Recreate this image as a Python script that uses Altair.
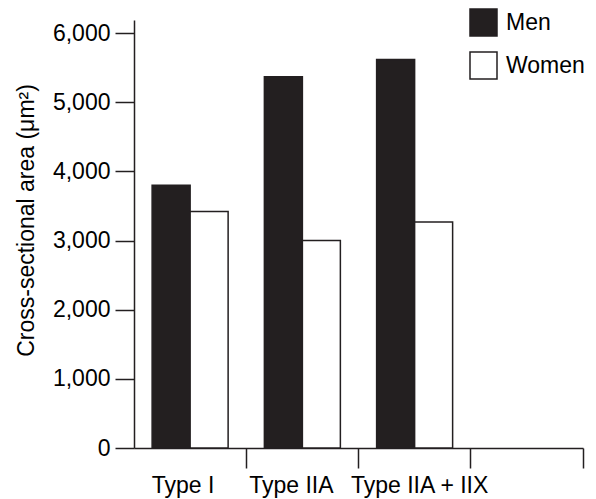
import altair as alt
import pandas as pd

categories = ["Type I", "Type IIA", "Type IIA + IIX"]
axis_slots = ["Type I", "Type IIA", "Type IIA + IIX", " "]
groups = ["Men", "Women"]
men = [3800, 5370, 5620]
women = [3420, 3000, 3270]
y_ticks = [0, 1000, 2000, 3000, 4000, 5000, 6000]

rows = []
for c, m, w in zip(categories, men, women):
    rows.append({"type": c, "sex": "Men", "area": m})
    rows.append({"type": c, "sex": "Women", "area": w})
df = pd.DataFrame(rows)

INK = "#231f20"
FONT = "Liberation Sans"
FS = 23

label_shift = alt.ExprRef(
    "datum.value == 'Type I' ? -7 : (datum.value == 'Type IIA' ? -11 : 5)"
)

chart = alt.Chart(df).mark_bar(stroke=INK, strokeWidth=1.5).encode(
    x=alt.X("type:N", sort=axis_slots,
            scale=alt.Scale(domain=axis_slots, paddingInner=0, paddingOuter=0),
            axis=alt.Axis(title=None, labelAngle=0, bandPosition=1, tickSize=20,
                          labelPadding=6, labelOffset=label_shift, labelFontSize=FS,
                          labelFont=FONT, labelColor="black", domainColor=INK,
                          tickColor=INK, domainWidth=1.5, tickWidth=1.5)),
    xOffset=alt.XOffset("sex:N", sort=groups,
                        scale=alt.Scale(paddingInner=0, paddingOuter=0.477)),
    y=alt.Y("area:Q", scale=alt.Scale(domain=[0, 6190], nice=False),
            axis=alt.Axis(title="Cross-sectional area (μm²)", values=y_ticks,
                          format=",d", tickSize=19, labelPadding=5,
                          labelFontSize=FS, labelFont=FONT, labelColor="black",
                          titleFontSize=FS, titleFont=FONT, titleFontWeight="normal",
                          titleColor="black", titleX=-96, titleY=200,
                          titleAngle=270, titleAlign="center", titleBaseline="bottom",
                          grid=False, domainColor=INK, tickColor=INK, domainWidth=1.5,
                          tickWidth=1.5)),
    fill=alt.Fill("sex:N", sort=groups,
                  scale=alt.Scale(domain=groups, range=[INK, "white"]),
                  legend=alt.Legend(title=None, orient="none", legendX=335, legendY=-12,
                                    symbolType="square", symbolSize=729,
                                    symbolStrokeColor=INK, symbolStrokeWidth=1.5,
                                    labelFontSize=FS, labelFont=FONT, labelColor="black",
                                    labelOffset=8, rowPadding=10, padding=0)),
).properties(
    width=449, height=428,
    padding={"left": 126, "top": 12, "right": 5, "bottom": 51},
    autosize=alt.AutoSizeParams(type="none"),
).configure_view(stroke=None)

chart.save("out.html", embed_options={"renderer": "svg", "actions": False})
